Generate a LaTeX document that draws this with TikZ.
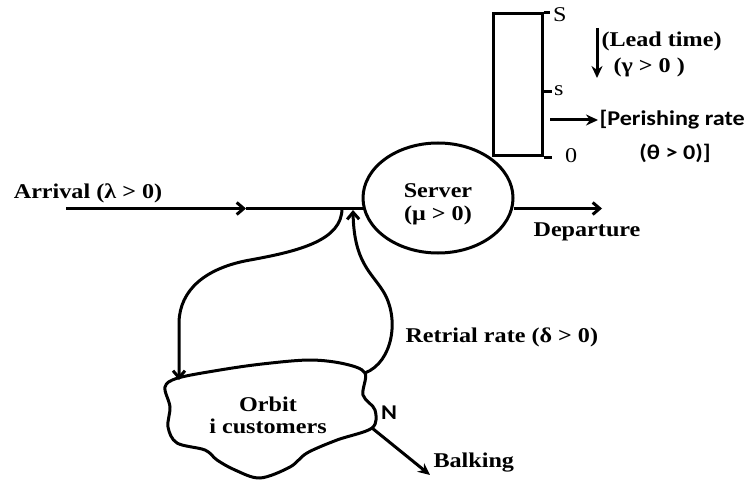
\documentclass[tikz,border=0pt]{standalone}
\usepackage{fontspec}
\setmainfont{Liberation Serif}[FakeStretch=1.15]
\newfontfamily\calfont{Carlito}[FakeStretch=1.15]
\usetikzlibrary{arrows.meta,shapes.geometric}

\begin{document}
\begin{tikzpicture}[x=1pt,y=-1pt,line width=3pt,
		txt/.style={inner sep=0pt,font=\fontsize{21}{22}\selectfont\bfseries},
		sym/.style={inner sep=0pt,font=\fontsize{21}{22}\selectfont},
		cal/.style={inner sep=0pt,font=\fontsize{21}{22}\selectfont\calfont\bfseries},
		barb/.style={-{Straight Barb[length=7pt,width=12pt]}},
		head/.style={-{Stealth[length=12pt,width=11pt]}}]
		\useasboundingbox (0,0) rectangle (751,481);

		\node[draw,ellipse,minimum width=150,minimum height=110] (server) at (438,198) {};
		\node[txt,align=center] (servertxt) at (438,204) {Server\\[1pt](μ > 0)};
		\node[txt] (arrival) at (88,193) {Arrival (λ > 0)};
		\node[txt] (departure) at (587,232) {Departure};
		\node[txt,anchor=west] (retrial) at (404,337) {Retrial rate (δ > 0)};
		\node[txt,align=center] (orbit) at (268,415) {Orbit\\[0pt]i customers};
		\node[cal] (n) at (389,413) {N};
		\node[txt,anchor=west] (balking) at (432,463) {Balking};

		\coordinate (arrstart) at (66,208.5);
		\coordinate (arrmid) at (246,208.5);
		\coordinate (deprt) at (602,208.5);
		\coordinate (split) at (342,208.5);
		\coordinate (join) at (353,210);
		\coordinate (orbtl) at (179,380);
		\coordinate (orbtr) at (365,373);
		\coordinate (orbn) at (372,428);
		\coordinate (balkend) at (430,475);

		\draw[barb] (arrstart) -- (arrmid);
		\draw (arrmid) -- ([xshift=1pt]server.west |- arrmid);
		\draw[barb] ([xshift=-1pt]server.east |- deprt) -- (deprt);

		\draw[barb] (split) .. controls (342,240) and (300,251) .. (250,260) .. controls (205,268) and (180,290) .. (179,322) -- (orbtl);
		\draw[barb] (orbtr) .. controls (393,362) and (400,318) .. (383,291) .. controls (371,272) and (354,262) .. (join);

		\draw plot[smooth cycle,tension=0.55] coordinates {(178,378) (220,370) (262,364) (310,360) (345,364) (orbtr) (363,395) (375,410) (orbn) (337,440) (307,453) (290,467) (260,478) (235,470) (217,460) (205,450) (177,443) (168,427) (170,407) (165,387)};
		\draw[head] (orbn) -- (balkend);

		\node[draw,minimum width=49,minimum height=142,inner sep=0pt] (stock) at (517.5,85) {};
		\draw (stock.north east) -- ++(6,0) node[sym,anchor=west,xshift=2pt,yshift=-2pt] (bigs) {S};
		\draw (stock.east |- 0,92) -- ++(8,0) node[sym,anchor=west,xshift=1pt,yshift=1pt] (smalls) {s};
		\draw (stock.south east) -- ++(8,0) node[sym,anchor=west,xshift=12pt,yshift=2pt] (zero) {0};

		\coordinate (leadtop) at (597,28);
		\coordinate (leadbot) at (597,78);
		\draw[head] (leadtop) -- (leadbot);
		\node[txt,anchor=west] (lead) at (600,41) {(Lead time)};
		\node[txt,anchor=west] (gamma) at (612,67) {(γ > 0 )};

		\coordinate (perstart) at (550,120);
		\node[cal,anchor=west] (perish) at (598,120) {[Perishing rate};
		\node[cal] (theta) at (675,153) {(θ > 0)]};
		\draw[head] (perstart) -- (perish.west);
	\end{tikzpicture}
\end{document}
